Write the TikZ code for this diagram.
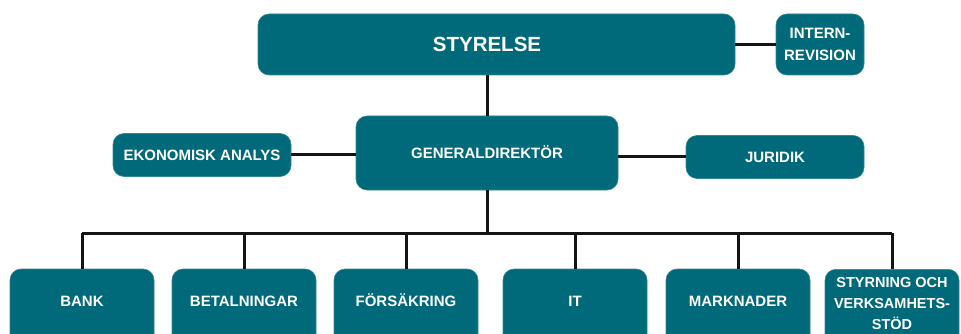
\documentclass[tikz,border=0pt]{standalone}
\usepackage{fontspec}
\setmainfont{Liberation Sans}
\usetikzlibrary{positioning}
\usepackage{xcolor}
\definecolor{orgteal}{RGB}{0,105,122}
\definecolor{orgline}{RGB}{20,20,20}

\begin{document}
\begin{tikzpicture}[x=1pt, y=-1pt,
    font=\fontsize{15}{22}\selectfont\bfseries,
    unit/.style={rectangle, draw=orgteal!80!white, fill=orgteal,
                 rounded corners=11pt, line width=0.6pt,
                 text=white, align=center, inner sep=2pt},
    oneline/.style={text height=11pt, text depth=0pt},
    dept/.style={unit, minimum width=144pt, minimum height=76pt,
                 text height=11pt, text depth=12pt},
    link/.style={color=orgline, line width=3pt},
]

\useasboundingbox (0,0) rectangle (961,334);
\clip (0,0) rectangle (961,334);

% ─── Top: board and internal audit ───────────────────────────────
\node[unit, minimum width=477pt, minimum height=61pt,
      font=\fontsize{20.5}{24}\selectfont\bfseries] (styrelse) at (496.5,44.5) {%
  \hspace*{-19pt}STYRELSE};
\node[unit, minimum width=88pt, minimum height=61pt] (intern) at (820,44.5) {INTERN-\\REVISION};

% ─── Middle: director general with staff units ───────────────────
\node[unit, oneline, minimum width=262pt, minimum height=74pt] (gd) at (487,153) {GENERALDIREKTÖR};
\node[unit, oneline, minimum width=178pt, minimum height=43pt] (ekon) at (202,155) {EKONOMISK ANALYS};
\node[unit, oneline, minimum width=178pt, minimum height=43pt] (juridik) at (775,157) {JURIDIK};

% ─── Bottom: departments ─────────────────────────────────────────
\node[dept] (bank) at (82,307) {BANK};
\node[dept] (betal) at (244,307) {BETALNINGAR};
\node[dept] (fors) at (406,307) {FÖRSÄKRING};
\node[dept] (it) at (575,307) {IT};
\node[dept] (mark) at (738,307) {MARKNADER};
\node[unit, minimum width=134pt, minimum height=76pt, anchor=north,
      font=\fontsize{14.5}{21}\selectfont\bfseries] (styr) at (892,269)
  {\raisebox{0pt}[0pt][0pt]{}STYRNING OCH\\VERKSAMHETS-\\STÖD\\[-13pt]};

\coordinate (bus) at (487,233);

% ─── Connectors ──────────────────────────────────────────────────
\draw[link] (styrelse.east |- intern.west) -- (intern.west);
\draw[link] (gd.north |- styrelse.south) -- (gd.north);
\draw[link] (ekon.east) -- (ekon.east -| gd.west);
\draw[link] (gd.east |- juridik.west) -- (juridik.west);
\draw[link] (gd.south) -- (bus);
\draw[link] (bank.north |- bus) -- (styr.north |- bus);
\foreach \unitname in {bank, betal, fors, it, mark, styr}
  \draw[link] (\unitname.north |- bus) -- (\unitname.north);

\end{tikzpicture}
\end{document}
